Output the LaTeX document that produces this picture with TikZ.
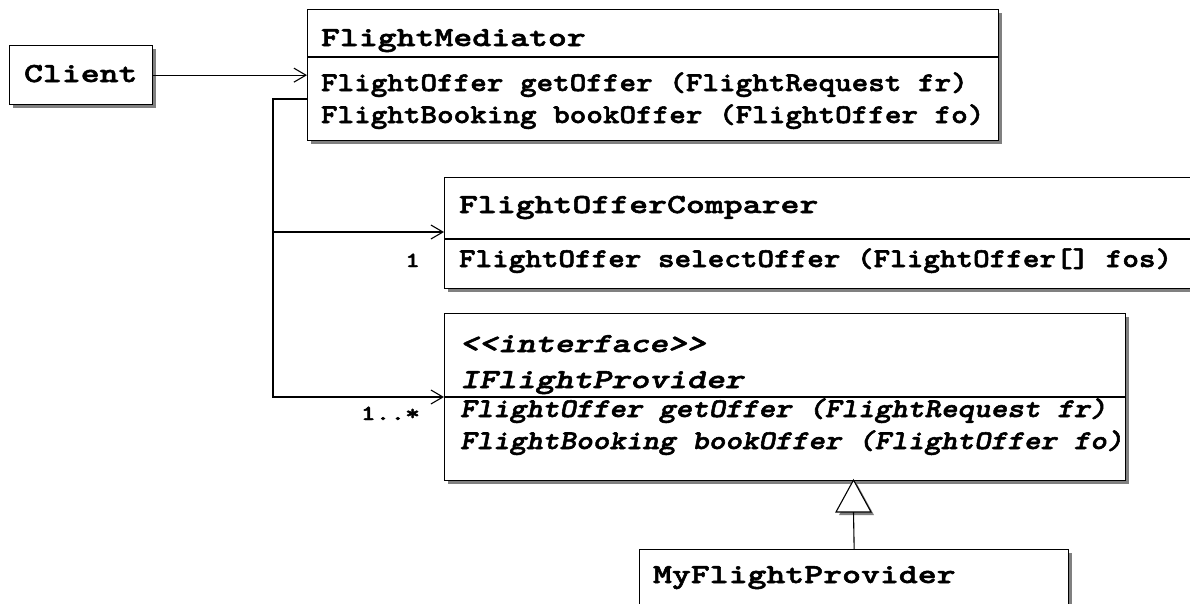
\documentclass[tikz,border=0pt]{standalone}
\usepackage{fontspec}
\newfontfamily\bodyfam{lmmonolt10-bold.otf}[ItalicFont=lmmonolt10-boldoblique.otf, FakeStretch=1.17, FakeBold=2]
\newfontfamily\hdrfam{lmmonolt10-bold.otf}[ItalicFont=lmmonolt10-boldoblique.otf, FakeStretch=1.31, FakeBold=2]
\usetikzlibrary{arrows.meta,shadows}
\newcommand{\hdrtxt}{\hdrfam\fontsize{27.5}{34}\selectfont}
\newcommand{\bodytxt}{\bodyfam\fontsize{27}{32}\selectfont}
\newcommand{\multtxt}{\hdrfam\fontsize{21.5}{24}\selectfont}
\definecolor{shadowgray}{HTML}{808080}
\tikzset{
  classbox/.style={draw=black, line width=1.3pt, fill=white, inner sep=0pt,
    anchor=north west,
    drop shadow={shadow xshift=3.5pt, shadow yshift=-3.5pt, fill=shadowgray, opacity=1}},
  divider/.style={draw=black, line width=1.3pt},
  lbl/.style={anchor=base west, inner sep=0pt, outer sep=0pt},
  mult/.style={anchor=base east, inner sep=0pt, outer sep=0pt},
  conn/.style={draw=black, line width=1.1pt},
  navarrow/.style={-{Straight Barb[length=12pt,width=14pt,line width=1.1pt]}},
}
\begin{document}
\begin{tikzpicture}[x=1pt,y=-1pt]
\useasboundingbox (0,0) rectangle (1190,603);
\clip (0,0) rectangle (1190,603);

% Client
\node[classbox, minimum width=143pt, minimum height=59pt] (client) at (9,45) {};
\node[lbl] (clientname) at (24,82) {\hdrtxt Client};

% FlightMediator
\node[classbox, minimum width=691pt, minimum height=131pt] (med) at (307,9) {};
\draw[divider] (med.west |- 0,57) -- (med.east |- 0,57);
\node[lbl] (medname) at (321,46) {\hdrtxt FlightMediator};
\node[lbl] (medop1) at (321,91) {\bodytxt FlightOffer getOffer (FlightRequest fr)};
\node[lbl] (medop2) at (321,123) {\bodytxt FlightBooking bookOffer (FlightOffer fo)};

% FlightOfferComparer
\node[classbox, minimum width=770pt, minimum height=111pt] (cmp) at (444,177) {};
\draw[divider] (cmp.west |- 0,239) -- (cmp.east |- 0,239);
\node[lbl] (cmpname) at (459,213) {\hdrtxt FlightOfferComparer};
\node[lbl] (cmpop1) at (459,267) {\bodytxt FlightOffer selectOffer (FlightOffer[] fos)};

% IFlightProvider
\node[classbox, minimum width=681pt, minimum height=167pt] (ifp) at (444,313) {};
\draw[divider] (ifp.west |- 0,397) -- (ifp.east |- 0,397);
\node[lbl] (ifpstereo) at (460,352) {\hdrtxt\itshape <\kern0pt<interface>\kern0pt>};
\node[lbl] (ifpname) at (460,388) {\hdrtxt\itshape IFlightProvider};
\node[lbl] (ifpop1) at (460,417) {\bodytxt\itshape FlightOffer getOffer (FlightRequest fr)};
\node[lbl] (ifpop2) at (460,449) {\bodytxt\itshape FlightBooking bookOffer (FlightOffer fo)};

% MyFlightProvider
\node[classbox, minimum width=429pt, minimum height=90pt] (mfp) at (639,549) {};
\node[lbl] (mfpname) at (653,583) {\hdrtxt MyFlightProvider};

% Multiplicities
\node[mult] (m1) at (420,267) {\multtxt 1};
\node[mult] (m2) at (420,420) {\multtxt 1..*};

% Connectors
\coordinate (medport) at (307,99);
\coordinate (bend1) at (273,99);
\coordinate (junc) at (273,232);
\coordinate (bend2) at (273,397);
\draw[conn, navarrow] (client.east) -- (client.east -| med.west);
\draw[conn, navarrow] (medport) -- (bend1) -- (bend2) -- (bend2 -| ifp.west);
\draw[conn, navarrow] (junc) -- (junc -| cmp.west);

% Generalization
\coordinate (tritop) at (853.5,480);
\coordinate (trileft) at (836,512);
\coordinate (triright) at (871,512);
\coordinate (tribase) at (853.5,512);
\fill[shadowgray] ([shift={(3,3)}]tritop) -- ([shift={(3,3)}]trileft) -- ([shift={(3,3)}]triright) -- cycle;
\draw[conn, fill=white, line join=miter] (tritop) -- (trileft) -- (triright) -- cycle;
\draw[conn] (mfp.north) -- (tribase);
\end{tikzpicture}
\end{document}
